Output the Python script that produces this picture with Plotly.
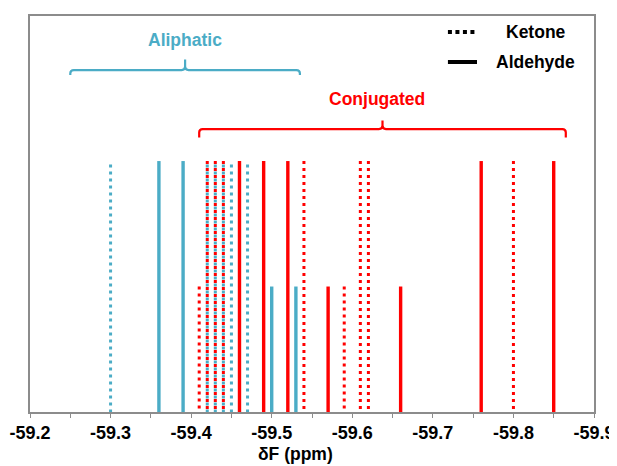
import plotly.graph_objects as go

# ---- data (chemical shifts in ppm, relative intensity) ----
aliph_ald_x = [-59.36, -59.39, -59.50, -59.53]
aliph_ald_h = [1, 1, 0.5, 0.5]
aliph_ket_x = [-59.30, -59.42, -59.43, -59.44, -59.45, -59.47]
aliph_ket_h = [1, 1, 1, 1, 1, 1]
conj_ald_x = [-59.46, -59.49, -59.52, -59.57, -59.66, -59.76, -59.85]
conj_ald_h = [1, 1, 1, 0.5, 0.5, 1, 1]
conj_ket_x = [-59.41, -59.42, -59.43, -59.44, -59.54, -59.59, -59.61, -59.62, -59.80]
conj_ket_h = [0.5, 1, 1, 1, 1, 0.5, 1, 1, 1]

tick_vals = [-59.2, -59.3, -59.4, -59.5, -59.6, -59.7, -59.8, -59.9]
tick_text = ["-59.2", "-59.3", "-59.4", "-59.5", "-59.6", "-59.7", "-59.8", "-59.9"]

# bracket spans (ppm)
aliph_span = [-59.25, -59.535]
conj_span = [-59.41, -59.865]

BLUE = "#4BACC6"
RED = "#FF0000"
FONT = "Liberation Sans, Arial, sans-serif"


def sticks(xs, hs):
    X, Y = [], []
    for x, h in zip(xs, hs):
        X += [x, x, None]
        Y += [h, 0, None]
    return X, Y


fig = go.Figure()
for xs, hs, col, dash, w in [
    (aliph_ket_x, aliph_ket_h, BLUE, "0px,3.5px,3px,0.5px", 3),
    (aliph_ald_x, aliph_ald_h, BLUE, "solid", 3.4),
    (conj_ket_x, conj_ket_h, RED, "3px,4px", 3),
    (conj_ald_x, conj_ald_h, RED, "solid", 3.4),
]:
    X, Y = sticks(xs, hs)
    fig.add_trace(go.Scatter(x=X, y=Y, mode="lines",
                             line=dict(color=col, width=w, dash=dash),
                             showlegend=False, hoverinfo="skip"))

# ---- brackets ----
DX = 0.7 / 564.0
DY = 1.578 / 396.0


def bracket(x0, x1, yh, yend, ytip, r=3.5):
    xc = (x0 + x1) / 2
    s = -1 if x1 < x0 else 1
    rx = r * DX * s
    ry = r * DY
    p = (f"M {x0},{yend} L {x0},{yh - ry} Q {x0},{yh} {x0 + rx},{yh} "
         f"L {xc - rx},{yh} Q {xc},{yh} {xc},{yh + ry} L {xc},{ytip} "
         f"M {xc},{yh + ry} Q {xc},{yh} {xc + rx},{yh} "
         f"L {x1 - rx},{yh} Q {x1},{yh} {x1},{yh - ry} L {x1},{yend}")
    return p


fig.add_shape(type="path", xref="x", yref="y",
              path=bracket(aliph_span[0], aliph_span[1], 1.3625, 1.343, 1.405),
              line=dict(color=BLUE, width=2.2))
fig.add_shape(type="path", xref="x", yref="y",
              path=bracket(conj_span[0], conj_span[1], 1.1275, 1.094, 1.162),
              line=dict(color=RED, width=2.2))

fig.add_annotation(x=(aliph_span[0] + aliph_span[1]) / 2, y=1.482, xref="x", yref="y",
                   text="<b>Aliphatic</b>", showarrow=False,
                   font=dict(family=FONT, size=17.5, color=BLUE))
fig.add_annotation(x=-59.631, y=1.249, xref="x", yref="y",
                   text="<b>Conjugated</b>", showarrow=False,
                   font=dict(family=FONT, size=17.5, color=RED))

# ---- custom legend ----
fig.add_shape(type="line", xref="paper", yref="paper", x0=0.741, x1=0.7926, y0=0.9596, y1=0.9596,
              line=dict(color="black", width=4, dash="4px,3.5px"))
fig.add_shape(type="line", xref="paper", yref="paper", x0=0.741, x1=0.7926, y0=0.8838, y1=0.8838,
              line=dict(color="black", width=4))
fig.add_annotation(x=0.897, y=0.9596, xref="paper", yref="paper", text="<b>Ketone</b>",
                   xanchor="center", yanchor="middle",
                   showarrow=False, font=dict(family=FONT, size=17.5, color="black"))
fig.add_annotation(x=0.897, y=0.8838, xref="paper", yref="paper", text="<b>Aldehyde</b>",
                   xanchor="center", yanchor="middle",
                   showarrow=False, font=dict(family=FONT, size=17.5, color="black"))

# ---- axis title ----
fig.add_annotation(x=0.47, y=-0.107, xref="paper", yref="paper", text="<b>δF (ppm)</b>",
                   xanchor="center", yanchor="middle",
                   showarrow=False, font=dict(family=FONT, size=17.5, color="black"))

fig.update_layout(
    width=609, height=458,
    margin=dict(l=22, r=23, t=8, b=54, autoexpand=False),
    paper_bgcolor="white", plot_bgcolor="white",
    xaxis=dict(range=[-59.2, -59.9], tickmode="array", tickvals=tick_vals, ticktext=tick_text,
               automargin=False,
               showgrid=False, zeroline=False, showline=True, mirror=True,
               linecolor="#8C8C8C", linewidth=1.5,
               ticks="outside", ticklen=4, tickcolor="#8C8C8C", tickwidth=1,
               minor=dict(dtick=0.05, tick0=-59.2, ticks="outside", ticklen=4,
                          tickcolor="#8C8C8C", tickwidth=1, showgrid=False),
               tickfont=dict(family=FONT, size=18, color="black", weight="bold")),
    yaxis=dict(range=[0, 1.578], showticklabels=False, showgrid=False, zeroline=False,
               automargin=False,
               showline=True, mirror=True, linecolor="#8C8C8C", linewidth=1.5, ticks=""),
    showlegend=False,
)

fig.write_html("out.html")
